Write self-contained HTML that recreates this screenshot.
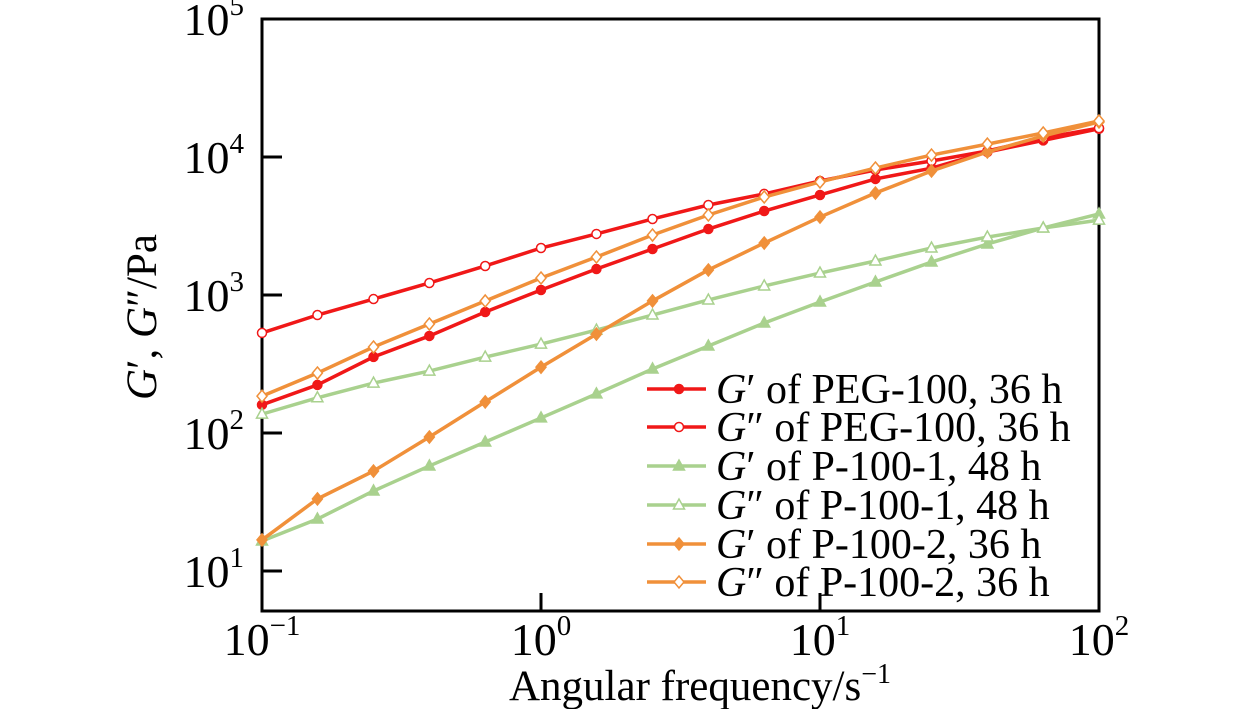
<!DOCTYPE html>
<html><head><meta charset="utf-8"><style>
html,body{margin:0;padding:0;background:#fff;}
svg{display:block;font-family:"Liberation Serif",serif;}
</style></head><body>
<svg id="chart" width="1260" height="709">
<g id="axes"></g><g id="series"></g><g id="legend"></g>
</svg>
<script>
const freqs=[0.1,0.158,0.251,0.398,0.631,1,1.58,2.51,3.98,6.31,10,15.8,25.1,39.8,63.1,100];
const gp_peg=[160,223,356,505,753,1087,1542,2155,3006,4060,5306,6934,8300,10870,13200,16000];
const gpp_peg=[531,716,935,1222,1623,2190,2770,3555,4490,5400,6700,8050,9360,11050,13740,16200];
const gp_p1=[16.5,23.8,38,57.7,86,128.6,192,291,427,627,890,1243,1733,2342,3060,3865];
const gpp_p1=[137,180,230,281,355,441,557,716,920,1163,1443,1763,2190,2630,3060,3490];
const gp_p2=[16.8,33.3,53,93.5,168,300,521,906,1518,2380,3670,5480,7920,10870,14200,17950];
const gpp_p2=[185,272,420,616,905,1328,1885,2720,3800,5130,6590,8320,10330,12400,14930,18240];
const seriesNames=["G′ of PEG-100, 36 h","G″ of PEG-100, 36 h","G′ of P-100-1, 48 h","G″ of P-100-1, 48 h","G′ of P-100-2, 36 h","G″ of P-100-2, 36 h"];
const xTickExp=[-1,0,1,2];
const yTickExp=[1,2,3,4,5];

const NS="http://www.w3.org/2000/svg";
const L=262,R=1099,T=19,B=611;
const xs=v=>262+(Math.log10(v)+1)*279;
const ys=v=>571-(Math.log10(v)-1)*138;
function mk(tag,attrs,parent){const e=document.createElementNS(NS,tag);for(const k in attrs)e.setAttribute(k,attrs[k]);parent.appendChild(e);return e;}
const axes=document.getElementById('axes');
const frame=mk('rect',{x:L,y:T,width:R-L,height:B-T,fill:'none',stroke:'#000','stroke-width':3},axes);


xTickExp.forEach(e=>{
  const x=xs(Math.pow(10,e));
  if(e>-1&&e<2) mk('line',{x1:x,x2:x,y1:B,y2:B-18,stroke:'#000','stroke-width':3},axes);
  const t=mk('text',{x:x,y:655,'text-anchor':'middle','font-size':46},axes);
  
  
  t.innerHTML='10<tspan dy="-20" font-size="29">'+String(e).replace('-','−')+'</tspan>';
});
yTickExp.forEach(e=>{
  const y=ys(Math.pow(10,e));
  if(e<5) mk('line',{x1:L,x2:L+20,y1:y,y2:y,stroke:'#000','stroke-width':3},axes);
  const t=mk('text',{x:244,y:y+16,'text-anchor':'end','font-size':46},axes);
  
  
  t.innerHTML='10<tspan dy="-20" font-size="29">'+e+'</tspan>';
});
const xl=mk('text',{x:700,y:700,'text-anchor':'middle','font-size':43},axes);


xl.innerHTML='Angular frequency/s<tspan dy="-17" font-size="28">−1</tspan>';
const yl=mk('text',{x:0,y:0,'text-anchor':'middle','font-size':43,transform:'translate(156,317) rotate(-90)'},axes);


yl.innerHTML='<tspan font-style="italic">G</tspan>′, <tspan font-style="italic">G</tspan>″/Pa';

const all=[gp_peg,gpp_peg,gp_p1,gpp_p1,gp_p2,gpp_p2];
const colors=['#f01818','#f01818','#a9d18e','#a9d18e','#f0903a','#f0903a'];
const markers=['circle','circle','tri','tri','diamond','diamond'];
const filled=[true,false,true,false,true,false];
const sg=document.getElementById('series');
function marker(g,type,x,y,c,f){
  const fill=f?c:'#fff';let e;
  if(type==='circle')e=mk('circle',{cx:x,cy:y,r:4.5,fill:fill,stroke:c,'stroke-width':1.5},g);
  else if(type==='tri')e=mk('polygon',{points:`${x},${y-6} ${x-5.5},${y+4} ${x+5.5},${y+4}`,fill:fill,stroke:c,'stroke-width':1.5},g);
  else e=mk('polygon',{points:`${x},${y-6} ${x+5},${y} ${x},${y+6} ${x-5},${y}`,fill:fill,stroke:c,'stroke-width':1.5},g);
  
  
}
all.forEach((vals,i)=>{
  const g=mk('g',{},sg);
  
  
  const pts=vals.map((v,j)=>xs(freqs[j])+','+ys(v)).join(' ');
  mk('polyline',{points:pts,fill:'none',stroke:colors[i],'stroke-width':3.5},g);
  vals.forEach((v,j)=>marker(g,markers[i],xs(freqs[j]),ys(v),colors[i],filled[i]));
});
const lg=document.getElementById('legend');
const rows=[389,427,466,505,544,582];
seriesNames.forEach((n,i)=>{
  const g=mk('g',{},lg);
  
  
  mk('line',{x1:647,x2:706,y1:rows[i],y2:rows[i],stroke:colors[i],'stroke-width':3.5},g);
  marker(g,markers[i],679,rows[i],colors[i],filled[i]);
  const t=mk('text',{x:716,y:rows[i]+14,'font-size':42},g);
  t.innerHTML='<tspan font-style="italic">G</tspan>'+n.slice(1);
});
</script>
</body></html>
